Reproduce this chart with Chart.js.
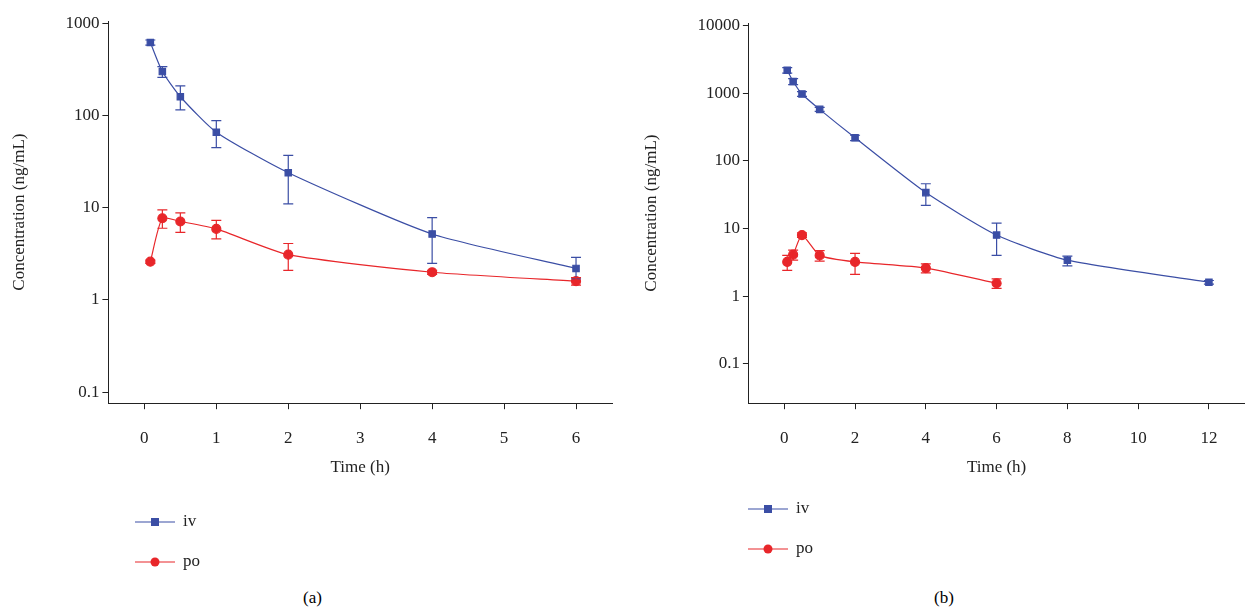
<!DOCTYPE html>
<html><head><meta charset="utf-8">
<script src="https://cdn.jsdelivr.net/npm/chart.js@4"></script>
<style>
body{margin:0;width:1247px;height:607px;background:#fff;position:relative;font-family:"Liberation Serif",serif;overflow:hidden}
.box{position:absolute;top:0;height:482px}
.leg{position:absolute;font-size:17px;color:#222}
.cap{position:absolute;font-size:17px;top:588px}
</style></head><body>
<div class="box" style="left:0;width:625px"><canvas id="ca"></canvas></div>
<div class="box" style="left:630px;width:620px"><canvas id="cb"></canvas></div>
<div class="leg" style="left:135px;top:510px"><canvas id="la" width="200" height="70"></canvas></div>
<div class="leg" style="left:748px;top:497px"><canvas id="lb" width="200" height="70"></canvas></div>
<div class="cap" style="left:303px">(a)</div>
<div class="cap" style="left:934px">(b)</div>
<script>
// panel (a)
const timeA = [0.083, 0.25, 0.5, 1, 2, 4, 6];
const ivA = [620, 300, 160, 66, 24, 5.2, 2.2];
const ivErrA = [[580, 660], [260, 340], [115, 210], [45, 88], [11, 37], [2.5, 7.8], [1.7, 2.9]];
const poA = [2.6, 7.7, 7.1, 5.9, 3.1, 2.0, 1.6];
const poErrA = [[2.5, 2.7], [6.0, 9.5], [5.4, 8.8], [4.6, 7.3], [2.1, 4.1], [1.9, 2.1], [1.45, 1.75]];
// panel (b)
const timeIvB = [0.083, 0.25, 0.5, 1, 2, 4, 6, 8, 12];
const ivB = [2200, 1500, 980, 580, 220, 34, 8, 3.4, 1.6];
const ivErrB = [[2000, 2400], [1350, 1650], [900, 1060], [540, 620], [200, 240], [22, 46], [4, 12], [2.8, 3.9], [1.5, 1.7]];
const timePoB = [0.083, 0.25, 0.5, 1, 2, 4, 6];
const poB = [3.2, 4.1, 8, 4, 3.2, 2.6, 1.55];
const poErrB = [[2.4, 4.0], [3.4, 4.8], [7.4, 8.6], [3.3, 4.7], [2.1, 4.3], [2.2, 3.0], [1.3, 1.8]];

const xTicksA = [0, 1, 2, 3, 4, 5, 6];
const xTicksB = [0, 2, 4, 6, 8, 10, 12];
const yTicksA = [0.1, 1, 10, 100, 1000];
const yTicksB = [0.1, 1, 10, 100, 1000, 10000];

const BLUE = "#3b4ea5", RED = "#e8262a";
const FONT = {family: "Liberation Serif", size: 17};

const errorBars = {
  id: "errorBars",
  afterDatasetsDraw(chart) {
    const ctx = chart.ctx, y = chart.scales.y;
    chart.data.datasets.forEach((ds, i) => {
      const meta = chart.getDatasetMeta(i);
      ctx.save();
      ctx.strokeStyle = ds.borderColor;
      ctx.lineWidth = 1.2;
      ds.err.forEach((e, j) => {
        const px = meta.data[j].x;
        const y0 = y.getPixelForValue(e[0]), y1 = y.getPixelForValue(e[1]);
        ctx.beginPath();
        ctx.moveTo(px, y0); ctx.lineTo(px, y1);
        ctx.moveTo(px - 5, y0); ctx.lineTo(px + 5, y0);
        ctx.moveTo(px - 5, y1); ctx.lineTo(px + 5, y1);
        ctx.stroke();
      });
      ctx.restore();
    });
  }
};

const makeChart = (id, sets, xr, xt, yr, yt, pad) => {
  new Chart(document.getElementById(id), {
    type: "line",
    data: {datasets: sets},
    plugins: [errorBars],
    options: {
      responsive: true, maintainAspectRatio: false, animation: false,
      layout: {padding: pad},
      plugins: {legend: {display: false}, tooltip: {enabled: false}},
      scales: {
        x: {
          type: "linear", min: xr[0], max: xr[1],
          afterBuildTicks: a => { a.ticks = xt.map(v => ({value: v})); },
          grid: {drawOnChartArea: false, tickLength: 6, color: "#222"},
          border: {color: "#222"},
          ticks: {color: "#222", font: FONT, padding: 19},
          title: {display: true, text: "Time (h)", color: "#222", font: FONT, padding: {top: -10}}
        },
        y: {
          type: "logarithmic", min: yr[0], max: yr[1],
          afterBuildTicks: a => { a.ticks = yt.map(v => ({value: v})); },
          grid: {drawOnChartArea: false, tickLength: 6, color: "#222"},
          border: {color: "#222"},
          ticks: {color: "#222", font: FONT, callback: v => String(v)},
          title: {display: true, text: "Concentration (ng/mL)", color: "#222", font: FONT, padding: {top: 0, bottom: 33}}
        }
      }
    }
  });
};

const ds = (label, xs, ys, err, color, style) => ({
  label, data: xs.map((x, i) => ({x, y: ys[i]})), err,
  borderColor: color, backgroundColor: color, borderWidth: 1.2,
  pointStyle: style, pointRadius: 4.5, tension: 0.2
});

makeChart("ca", [
  ds("iv", timeA, ivA, ivErrA, BLUE, "rect"),
  ds("po", timeA, poA, poErrA, RED, "circle")
], [-0.5, 6.5], xTicksA, [0.076, 1060], yTicksA, {top: 21, right: 13, left: 9});

makeChart("cb", [
  ds("iv", timeIvB, ivB, ivErrB, BLUE, "rect"),
  ds("po", timePoB, poB, poErrB, RED, "circle")
], [-1, 13], xTicksB, [0.026, 11000], yTicksB, {top: 23, right: 4, left: 11});

// legends
const drawLegend = id => {
  const ctx = document.getElementById(id).getContext("2d");
  ctx.font = "17px Liberation Serif";
  ctx.textBaseline = "middle";
  [["iv", BLUE, 12, "rect"], ["po", RED, 52, "circle"]].forEach(([t, c, y, s]) => {
    ctx.strokeStyle = c; ctx.fillStyle = c; ctx.lineWidth = 1.2;
    ctx.beginPath(); ctx.moveTo(0, y); ctx.lineTo(40, y); ctx.stroke();
    if (s === "rect") ctx.fillRect(16, y - 4, 8, 8);
    else { ctx.beginPath(); ctx.arc(20, y, 4.5, 0, Math.PI * 2); ctx.fill(); }
    ctx.fillStyle = "#222"; ctx.fillText(t, 48, y);
  });
};
drawLegend("la"); drawLegend("lb");
</script>
</body></html>
